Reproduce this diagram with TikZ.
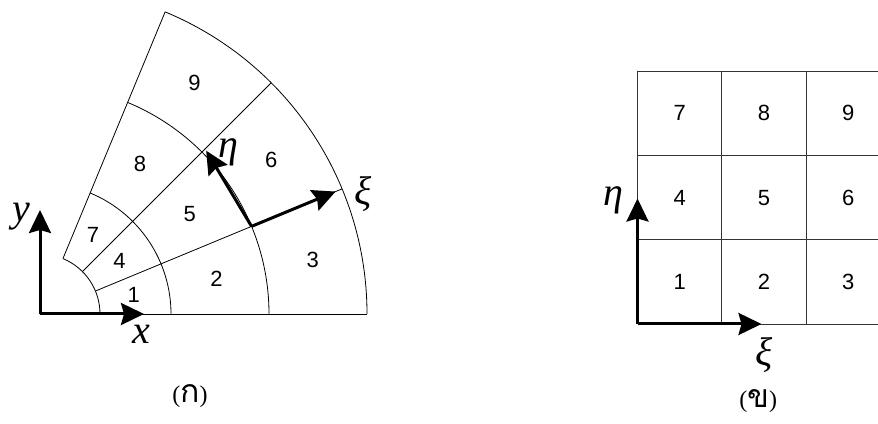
\documentclass[tikz,border=0pt]{standalone}
\usepackage{fontspec}
\newfontfamily\digitfont{Liberation Sans}
\newfontfamily\capfont{Liberation Serif}
\newfontfamily\thaifont[Script=Thai]{Loma}
\usetikzlibrary{arrows.meta}

\begin{document}
\begin{tikzpicture}[x=1pt,y=1pt,every node/.style={inner sep=0pt},
    cellnum/.style={font=\fontsize{22}{26}\selectfont\digitfont},
    axislabel/.style={font=\fontsize{40}{44}\selectfont\capfont\itshape},
    caption/.style={font=\fontsize{24}{28}\selectfont\capfont},
    axis/.style={line width=3pt,-{Stealth[length=23pt,width=22pt,inset=3pt]}},
    mesh/.style={line width=0.8pt}]
  \useasboundingbox (0,0) rectangle (878,423);
  \clip (0,0) rectangle (878,423);

  % physical domain
  \coordinate (O) at (40,109);
  \begin{scope}[shift={(O)}]
    \foreach \a in {0,22.5,45,67.5}
      \draw[mesh] (\a:60) -- (\a:327);
    \foreach \r in {60,131,229,327}
      \draw[mesh] (0:\r) arc[start angle=0,end angle=67.5,radius=\r];
    \foreach \j in {0,1,2}
      \foreach \i/\rr in {1/95.5,2/180,3/278}{
        \pgfmathtruncatemacro\n{3*\j+\i}
        \node[cellnum] (p\n) at ({11.25+22.5*\j}:\rr) {\n};
      }
    \coordinate (xtip) at (104,0);
    \coordinate (ytip) at (0,104);
    \coordinate (P) at (22.5:229);      % local origin
    \coordinate (xitip) at (22.5:320);
    \coordinate (etatip) at (44.5:233);
  \end{scope}
  \draw[axis] (O) -- (xtip);
  \draw[axis] (O) -- (ytip);
  \draw[axis] (P) -- (xitip);
  \draw[axis] (P) -- (etatip);
  \node[axislabel] (xlab) at (141.7,89) {x};
  \node[axislabel] (ylab) at (21.7,206.3) {y};
  \node[axislabel] (xilab) at (363.3,228.8) {ξ};
  \node[axislabel] (etalab) at (228.3,270.5) {η};
  \node[caption] (capa) at (190,27.3) {({\fontsize{32}{33}\selectfont\thaifont ก})};

  % computational domain
  \coordinate (G) at (637.5,99);
  \begin{scope}[shift={(G)}]
    \draw[mesh,black!80,step=84.3] (0,0) grid (260,252.9);
    \foreach \j in {0,1,2}
      \foreach \i in {1,2,3}{
        \pgfmathtruncatemacro\n{3*\j+\i}
        \node[cellnum] (q\n) at ({84.3*(\i-0.5)},{84.3*(\j+0.5)}) {\n};
      }
    \coordinate (xitipR) at (124,0);
    \coordinate (etatipR) at (0,125.5);
  \end{scope}
  \draw[axis] (G) -- (xitipR);
  \draw[axis] (G) -- (etatipR);
  \node[axislabel] (xilabR) at (764.2,68) {ξ};
  \node[axislabel] (etalabR) at (613.3,222.2) {η};
  \node[caption] (capb) at (758.3,22.3) {({\fontsize{32}{33}\selectfont\thaifont ข})};
\end{tikzpicture}
\end{document}
